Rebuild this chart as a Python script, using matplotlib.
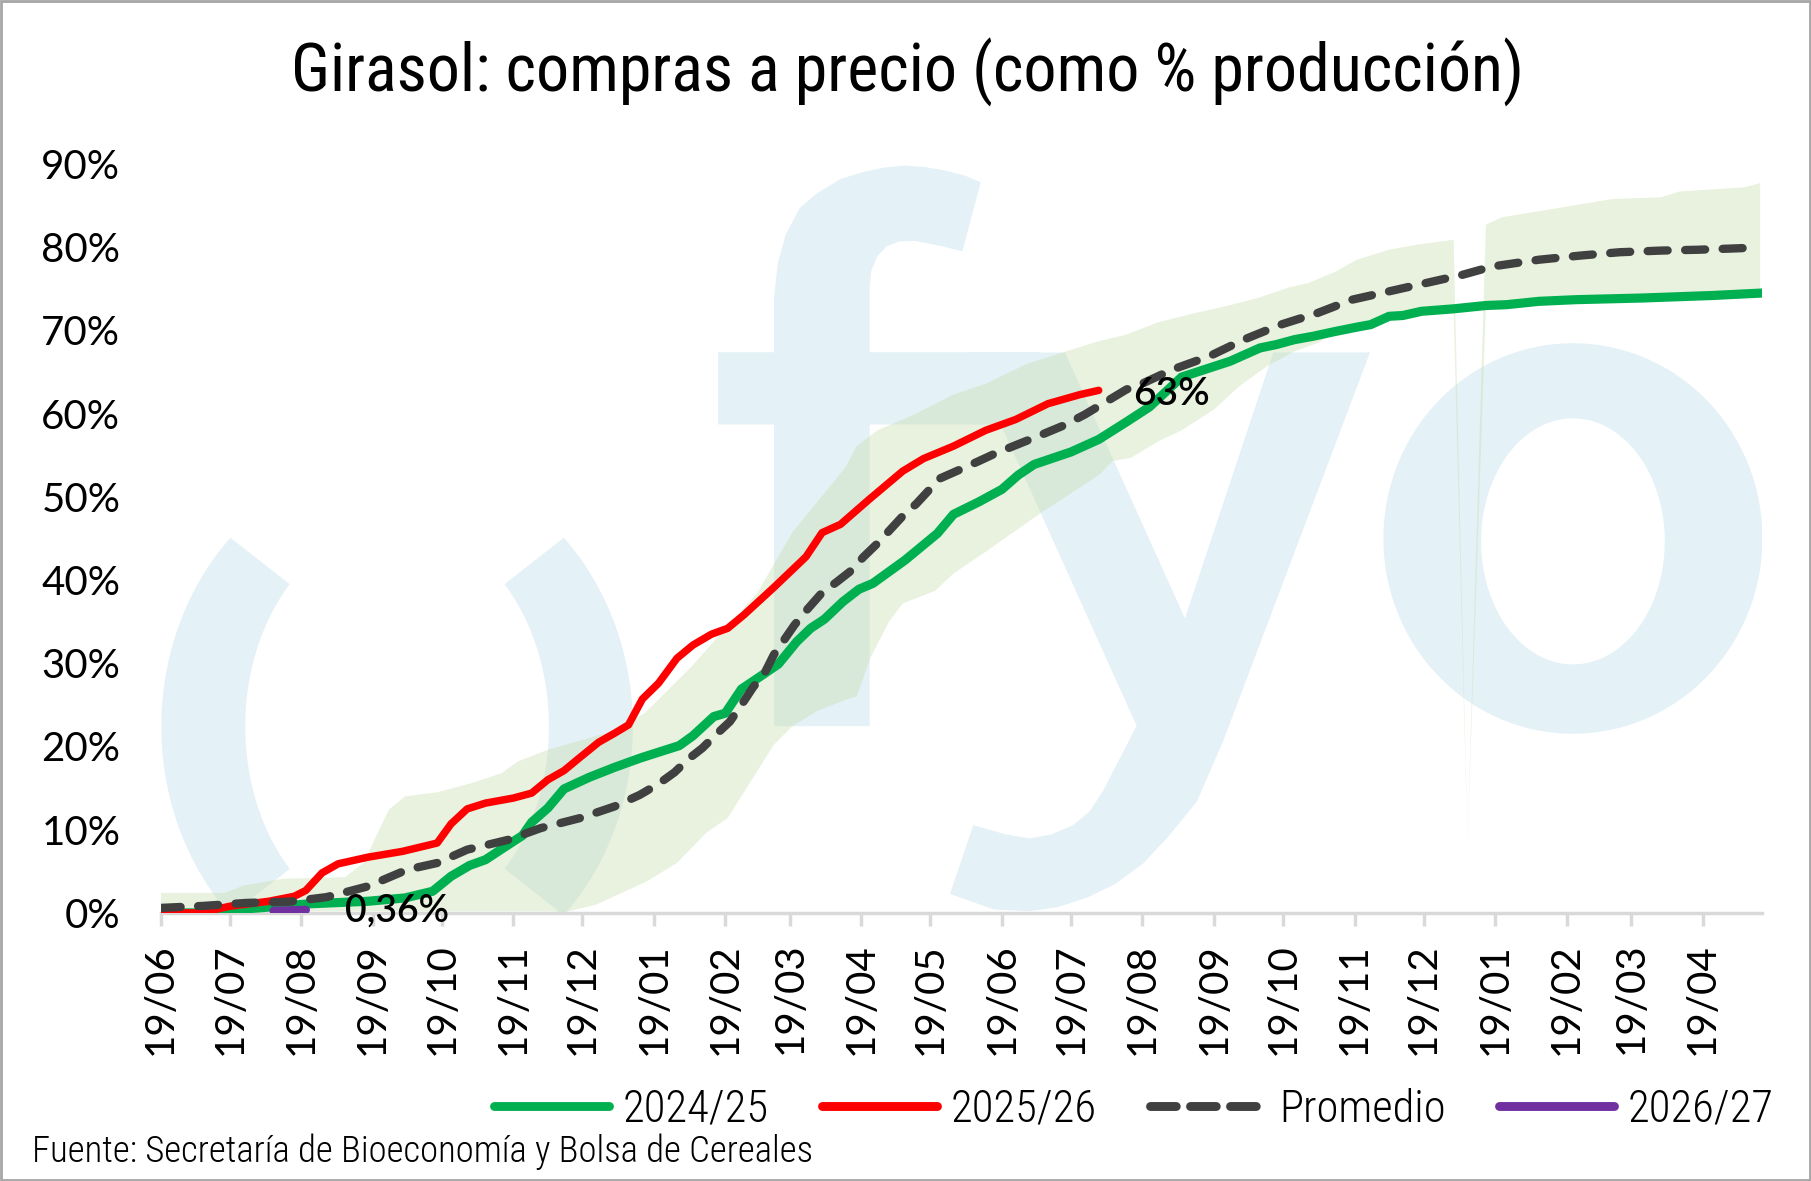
"""Girasol: compras a precio como % de la producción (réplica del gráfico fyo)."""

import numpy as np
import matplotlib

matplotlib.use("Agg")
import matplotlib.pyplot as plt
import matplotlib.dates as mdates
from matplotlib import font_manager
from matplotlib.lines import Line2D
from matplotlib.patches import Polygon, Rectangle, PathPatch
from matplotlib.path import Path
from matplotlib.transforms import Affine2D

# ---------------------------------------------------------------- datos
# eje x: días transcurridos desde el 19/06 de inicio de campaña
BASE_DATE = np.datetime64("2025-06-19")
X_END_DAY = 695

GREEN_DAYS = [0, 20, 33, 47, 65, 90, 106, 118, 126, 134, 141, 147, 157, 161, 168, 175,
              186, 197, 208, 217, 225, 231, 240, 245, 252, 259, 268, 276, 282, 288, 296,
              303, 309, 316, 323, 330, 337, 344, 355, 365, 372, 379, 395, 407, 419, 429,
              443, 464, 477, 484, 492, 500, 510, 519, 525, 533, 539, 547, 561, 575, 584,
              598, 614, 643, 673, 695]
GREEN_PCT = [0, 0, 0.4, 0.7, 1.1, 1.4, 1.8, 2.6, 4.4, 5.7, 6.4, 7.5, 9.3, 10.9, 12.6, 14.9,
             16.3, 17.5, 18.6, 19.4, 20.1, 21.3, 23.6, 24.0, 26.9, 28.2, 29.9, 32.6, 34.2, 35.3, 37.4,
             38.9, 39.6, 41.0, 42.4, 44.0, 45.6, 47.9, 49.4, 50.9, 52.6, 53.9, 55.4, 56.9, 59.0, 60.8,
             64.4, 66.3, 67.9, 68.3, 68.9, 69.3, 69.9, 70.4, 70.7, 71.7, 71.8, 72.3, 72.6, 73.0, 73.1,
             73.5, 73.7, 73.9, 74.2, 74.5]

RED_DAYS = [0, 17, 30, 47, 58, 63, 70, 77, 90, 105, 120, 126, 133, 141, 153, 161, 168, 175,
            182, 190, 197, 203, 209, 216, 224, 231, 239, 246, 253, 266, 280, 287, 295, 307,
            322, 331, 344, 358, 371, 385, 399, 407]
RED_PCT = [0, 0, 0.8, 1.4, 2.0, 2.7, 4.8, 5.9, 6.7, 7.4, 8.4, 10.7, 12.5, 13.2, 13.8, 14.4, 16.0, 17.1,
           18.7, 20.5, 21.6, 22.6, 25.7, 27.6, 30.6, 32.2, 33.5, 34.2, 35.8, 39.1, 42.8, 45.7, 46.7, 49.6,
           53.1, 54.6, 56.1, 58.0, 59.3, 61.2, 62.3, 62.8]

AVG_DAYS = [0, 19, 37, 56, 72, 90, 107, 120, 133, 151, 165, 182, 197, 208, 216, 223, 229,
            235, 242, 247, 252, 257, 262, 266, 270, 275, 280, 287, 293, 299, 305, 311, 317,
            322, 328, 333, 338, 347, 355, 362, 370, 379, 392, 401, 410, 419, 425, 439, 455,
            470, 486, 502, 517, 533, 549, 565, 578, 598, 616, 633, 651, 667, 687]
AVG_PCT = [0.6, 0.85, 1.2, 1.35, 1.9, 3.2, 5.2, 6.0, 7.6, 8.8, 10.2, 11.4, 12.8, 14.2, 15.5, 16.9, 18.5,
           19.8, 21.7, 23.0, 25.0, 27.1, 28.8, 31.0, 32.6, 34.6, 36.3, 38.5, 39.7, 41.0, 42.8, 44.4, 46.2,
           47.7, 49.2, 50.7, 52.2, 53.3, 54.3, 55.2, 56.1, 57.1, 58.6, 59.9, 61.4, 62.9, 63.5, 65.3, 66.9,
           68.9, 70.7, 72.1, 73.7, 74.7, 75.7, 76.7, 77.7, 78.5, 79.0, 79.4, 79.6, 79.7, 79.9]

NEW_DAYS = [49, 63]
NEW_PCT = [0.25, 0.36]

# banda min-max de campañas anteriores
BAND_UP_DAYS = [0, 28, 36, 53, 67, 80, 88, 99, 106, 120, 135, 148, 155, 168, 183, 196, 210,
                230, 259, 274, 297, 302, 311, 327, 344, 358, 376, 392, 407, 419, 433, 449,
                462, 476, 490, 498, 510, 519, 533, 545, 561, 567, 575, 582, 604, 630, 651,
                659, 687, 694]
BAND_UP_PCT = [2.4, 2.4, 3.3, 4.1, 4.2, 4.3, 6.0, 12.4, 14.0, 14.5, 15.6, 16.8, 18.2, 19.6, 20.8, 21.8, 24.0,
               29.5, 38.5, 45.7, 53.5, 56.1, 58.0, 59.9, 62.3, 63.6, 66.0, 67.4, 68.7, 69.5, 71.0, 72.1,
               72.9, 73.9, 75.2, 75.7, 77.1, 78.5, 79.7, 80.3, 80.9, 8.5, 82.7, 83.6, 84.6, 85.8, 86.0,
               86.7, 87.2, 87.7]
BAND_LOW_DAYS = [0, 170, 174, 189, 200, 211, 224, 237, 246, 266, 274, 285, 299, 302, 308, 316,
                 322, 336, 344, 359, 381, 407, 413, 421, 433, 443, 457, 468, 480, 492, 502, 510,
                 525, 533, 547, 561, 567, 575, 584, 598, 614, 643, 673, 694]
BAND_LOW_PCT = [0.2, 0.2, 0.0, 1.0, 2.4, 3.8, 6.0, 9.7, 11.4, 20.2, 22.4, 24.3, 25.8, 26.0, 30.7, 35.0,
                37.2, 38.7, 40.8, 43.6, 47.9, 52.6, 54.3, 54.7, 56.7, 58.0, 60.5, 63.3, 65.7, 67.5, 68.5, 69.9,
                70.7, 71.7, 72.3, 72.6, 8.3, 73.0, 73.1, 73.5, 73.7, 73.9, 74.2, 74.5]

Y_TICKS = [0, 10, 20, 30, 40, 50, 60, 70, 80, 90]
SERIES_LABELS = ["2024/25", "2025/26", "Promedio", "2026/27"]
TITLE = "Girasol: compras a precio (como % producción)"
SOURCE = "Fuente: Secretaría de Bioeconomía y Bolsa de Cereales"

C_GREEN = "#00b050"
C_RED = "#ff0000"
C_AVG = "#404040"
C_NEW = "#7030a0"
C_BAND = "#c9e0b3"
C_MARK = "#e4f1f6"
C_AXIS = "#d9d9d9"


def pick_font(*names):
    for name in names:
        try:
            font_manager.findfont(name, fallback_to_default=False)
            return name
        except ValueError:
            continue
    return "DejaVu Sans"


NARROW = pick_font("Liberation Sans Narrow", "Roboto Condensed", "Open Sans")
MAIN = pick_font("Lato", "Open Sans", "Noto Sans")


def to_num(days):
    return mdates.date2num(BASE_DATE + np.array(days, dtype="timedelta64[D]"))


fig = plt.figure(figsize=(18.11, 11.81), dpi=100)
ax = fig.add_axes([0.0887, 0.2270, 0.9732 - 0.0887, 0.8611 - 0.2270])

# ------------------------------------------------ marca de agua "(fyo"
# coordenadas en píxeles de una imagen de 1567 x 1022 (y hacia abajo)
REF_W, REF_H = 1567.0, 1022.0
px = Affine2D().scale(1 / REF_W, -1 / REF_H).translate(0, 1) + fig.transFigure


def ring_piece(cx, cy, ao, bo, ai, bi, t0, t1, n=60):
    t = np.radians(np.linspace(t0, t1, n))
    outer = np.column_stack([cx + ao * np.cos(t), cy - bo * np.sin(t)])
    inner = np.column_stack([cx + ai * np.cos(t[::-1]), cy - bi * np.sin(t[::-1])])
    return np.vstack([outer, inner])


f_shape = [(621.4, 304.8), (669.8, 304.8), (669.8, 257.3), (673, 228), (679.8, 203), (692, 180),
           (707.6, 166.8), (727, 155), (747.3, 148.7), (765, 145), (783, 143.3), (800, 144.5),
           (818.8, 147.8), (835, 152), (848.6, 157.8), (832.7, 217.5), (815, 213), (791, 208.4),
           (778, 209), (767.2, 213), (759, 222), (754, 234), (752.5, 248), (752.5, 304.8),
           (900, 304.8), (900, 367.3), (752.5, 367.3), (752.5, 628.4), (669.8, 628.4),
           (669.8, 367.3), (621.4, 367.3)]
y_shape = [(837.8, 305), (921.5, 305), (1025.3, 535.2), (1101.8, 305), (1185.4, 305),
           (1058.5, 641), (1035.4, 694), (1010, 725), (989.3, 747), (965, 765), (940, 777),
           (915, 785), (891, 788.5), (860, 787), (822, 773.6), (842.2, 714), (870, 722),
           (891, 725.5), (910, 722), (928.7, 714), (943, 702), (954.7, 684), (983.5, 628)]

for pts in [ring_piece(343.6, 628.7, 204, 231, 131.4, 174.2, 135, 225),
            ring_piece(343.6, 628.7, 204, 231, 131.4, 174.2, -45, 45),
            np.array(f_shape), np.array(y_shape)]:
    ax.add_patch(Polygon(pts, closed=True, facecolor=C_MARK, edgecolor="none",
                         transform=px, zorder=0))

t = np.radians(np.linspace(0, 360, 120))
o_outer = np.column_stack([1361 + 164 * np.cos(t), 466 + 169 * np.sin(t)])
o_inner = np.column_stack([1361 + 79.5 * np.cos(t[::-1]), 468.5 + 106.5 * np.sin(t[::-1])])
ring_codes = [Path.MOVETO] + [Path.LINETO] * 119 + [Path.CLOSEPOLY]
o_path = Path(np.vstack([o_outer, o_outer[:1], o_inner, o_inner[:1]]), ring_codes * 2)
ax.add_patch(PathPatch(o_path, facecolor=C_MARK, edgecolor="none", transform=px, zorder=0))

# ------------------------------------------------ banda y series
band_x = np.concatenate([to_num(BAND_UP_DAYS), to_num(BAND_LOW_DAYS)[::-1]])
band_y = np.concatenate([BAND_UP_PCT, BAND_LOW_PCT[::-1]])
ax.fill(band_x, band_y, color=C_BAND, alpha=0.42, lw=0, zorder=1)

ax.plot(to_num(GREEN_DAYS), GREEN_PCT, color=C_GREEN, lw=6.6,
        solid_capstyle="round", solid_joinstyle="round", zorder=3)
ax.plot(to_num(RED_DAYS), RED_PCT, color=C_RED, lw=5.4,
        solid_capstyle="round", solid_joinstyle="round", zorder=4)
ax.plot(to_num(AVG_DAYS), AVG_PCT, color=C_AVG, lw=6.0, dashes=(2.4, 2.1),
        dash_capstyle="round", dash_joinstyle="round", zorder=5)
ax.plot(to_num(NEW_DAYS), NEW_PCT, color=C_NEW, lw=6.0, solid_capstyle="round", zorder=6)

ax.text(to_num([80])[0], 0.2, "0,36%", fontsize=27, family=MAIN, fontweight="semibold",
        ha="left", va="center", zorder=7)
ax.text(to_num([422])[0], 62.4, "63%", fontsize=28, family=MAIN, fontweight="semibold",
        ha="left", va="center", zorder=7)

# ------------------------------------------------ ejes
ax.set_xlim(to_num([0])[0], to_num([X_END_DAY])[0])
ax.set_ylim(0, 90)
ax.set_yticks(Y_TICKS)
ax.set_yticklabels([f"{v}%" for v in Y_TICKS])
ax.xaxis.set_major_locator(mdates.MonthLocator(bymonthday=19))
ax.xaxis.set_major_formatter(mdates.DateFormatter("%d/%m"))

for side in ["top", "right", "left"]:
    ax.spines[side].set_visible(False)
ax.spines["bottom"].set_color(C_AXIS)
ax.spines["bottom"].set_linewidth(2.5)
ax.tick_params(axis="y", length=0, pad=29, labelsize=29, labelcolor="black")
ax.tick_params(axis="x", length=9.5, width=2.5, color=C_AXIS, pad=12,
               labelsize=29, labelrotation=90, labelcolor="black")
for lab in ax.get_xticklabels() + ax.get_yticklabels():
    lab.set_family(MAIN)
    lab.set_fontweight("normal")
ax.set_facecolor("none")

fig.text(0.501, 0.939, TITLE, ha="center", va="center", fontsize=47.5, family=NARROW)
fig.text(0.0179, 0.0245, SOURCE, ha="left", va="center", fontsize=26.5, family=NARROW,
         fontweight="light")

handles = [
    Line2D([], [], color=C_GREEN, lw=6.4, solid_capstyle="round"),
    Line2D([], [], color=C_RED, lw=6.4, solid_capstyle="round"),
    Line2D([], [], color=C_AVG, lw=6.4, dashes=(2.9, 1.6), dash_capstyle="round"),
    Line2D([], [], color=C_NEW, lw=6.4, solid_capstyle="round"),
]
fig.legend(handles, SERIES_LABELS, loc="center", bbox_to_anchor=(0.626, 0.0607), ncol=4,
           frameon=False, handlelength=2.6, handletextpad=0.3, columnspacing=1.2,
           prop={"family": NARROW, "size": 32, "weight": "light"})

fig.patches.append(Rectangle((0.0008, 0.0012), 0.9984, 0.9976, transform=fig.transFigure,
                             fill=False, edgecolor="#a6a6a6", lw=2))

fig.savefig("out.png", dpi=100)
